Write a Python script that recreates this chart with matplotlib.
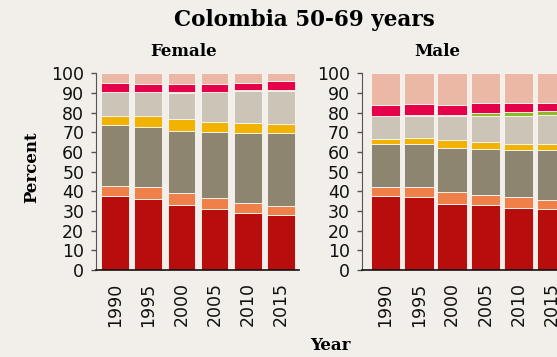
import matplotlib
matplotlib.use("Agg")
import matplotlib.pyplot as plt
import numpy as np

# Years on the x axis
years = ["1990", "1995", "2000", "2005", "2010", "2015"]

# Layer colours, bottom to top
colors = ["#B80D0D", "#F0804A", "#8E8570", "#F2B200",
          "#CCC4B6", "#8DB929", "#E5004A", "#EBB8A6"]

# Female segment values (percent), bottom to top
female_red = [37.6, 36.3, 33.1, 31.0, 29.0, 28.1]
female_orange = [4.9, 5.7, 6.1, 5.6, 4.9, 4.4]
female_taupe = [31.1, 30.9, 31.6, 33.7, 35.6, 37.0]
female_yellow = [4.9, 5.4, 6.0, 5.1, 5.2, 4.9]
female_beige = [12.0, 12.2, 13.2, 15.1, 16.1, 16.8]
female_green = [0.0, 0.0, 0.5, 0.1, 0.6, 0.5]
female_crimson = [4.8, 4.1, 4.1, 4.1, 3.9, 4.2]
female_pink = [4.7, 5.4, 5.4, 5.3, 4.7, 4.1]

# Male segment values (percent), bottom to top
male_red = [37.6, 37.1, 33.6, 33.1, 31.5, 31.0]
male_orange = [4.6, 5.1, 6.1, 5.0, 5.6, 4.8]
male_taupe = [21.9, 21.9, 22.3, 23.4, 23.9, 25.2]
male_yellow = [2.5, 3.2, 4.1, 3.8, 3.2, 3.2]
male_beige = [11.7, 11.2, 12.4, 13.0, 14.1, 14.8]
male_green = [0.0, 0.3, 0.5, 1.7, 2.2, 2.0]
male_crimson = [5.8, 5.8, 5.1, 5.1, 4.6, 4.1]
male_pink = [15.9, 15.4, 15.9, 14.9, 14.9, 14.9]

female = [female_red, female_orange, female_taupe, female_yellow,
          female_beige, female_green, female_crimson, female_pink]
male = [male_red, male_orange, male_taupe, male_yellow,
        male_beige, male_green, male_crimson, male_pink]

bg = "#F2EFEA"
fig = plt.figure(figsize=(5.57, 3.57), dpi=100, facecolor=bg)

ax_f = fig.add_axes([96 / 557, 87 / 357, 203 / 557, 196.7 / 357], facecolor=bg)
ax_m = fig.add_axes([361.7 / 557, 87 / 357, 203 / 557, 196.7 / 357], facecolor=bg)


def draw(ax, layers, width, x0):
    x = np.arange(len(years))
    bottom = np.zeros(len(years))
    for vals, c in zip(layers, colors):
        ax.bar(x, vals, width, bottom=bottom, color=c,
               edgecolor="#FBF8F4", linewidth=0.6)
        bottom += np.array(vals)
    ax.set_ylim(0, 100)
    ax.set_xlim(x0, x0 + 6.1)
    ax.set_xticks(x)
    ax.set_xticklabels(years, rotation=90)
    ax.set_yticks(range(0, 101, 10))
    ax.tick_params(axis="x", length=0, pad=9, labelsize=12.5, colors="#111111")
    ax.tick_params(axis="y", length=3.5, width=1, pad=5, labelsize=12.5,
                   colors="#555555", labelcolor="#111111")
    for s in ["top", "right"]:
        ax.spines[s].set_visible(False)
    ax.spines["left"].set_color("#555555")
    ax.spines["bottom"].set_color("#111111")
    ax.spines["bottom"].set_linewidth(1.2)


draw(ax_f, female, 0.83, -0.565)
draw(ax_m, male, 0.89, -0.715)

serif = "DejaVu Serif"
fig.text(304 / 557, 1 - 20 / 357, "Colombia 50-69 years", ha="center", va="center",
         fontsize=15.5, fontweight="bold", family=serif)
fig.text(184 / 557, 1 - 51 / 357, "Female", ha="center", va="center",
         fontsize=12, fontweight="bold", family=serif)
fig.text(437 / 557, 1 - 51 / 357, "Male", ha="center", va="center",
         fontsize=12, fontweight="bold", family=serif)
fig.text(32 / 557, 1 - 167 / 357, "Percent", ha="center", va="center",
         rotation=90, fontsize=12, fontweight="bold", family=serif)
fig.text(330 / 557, 1 - 345 / 357, "Year", ha="center", va="center",
         fontsize=12, fontweight="bold", family=serif)

fig.savefig("out.png", dpi=100, facecolor=bg)
